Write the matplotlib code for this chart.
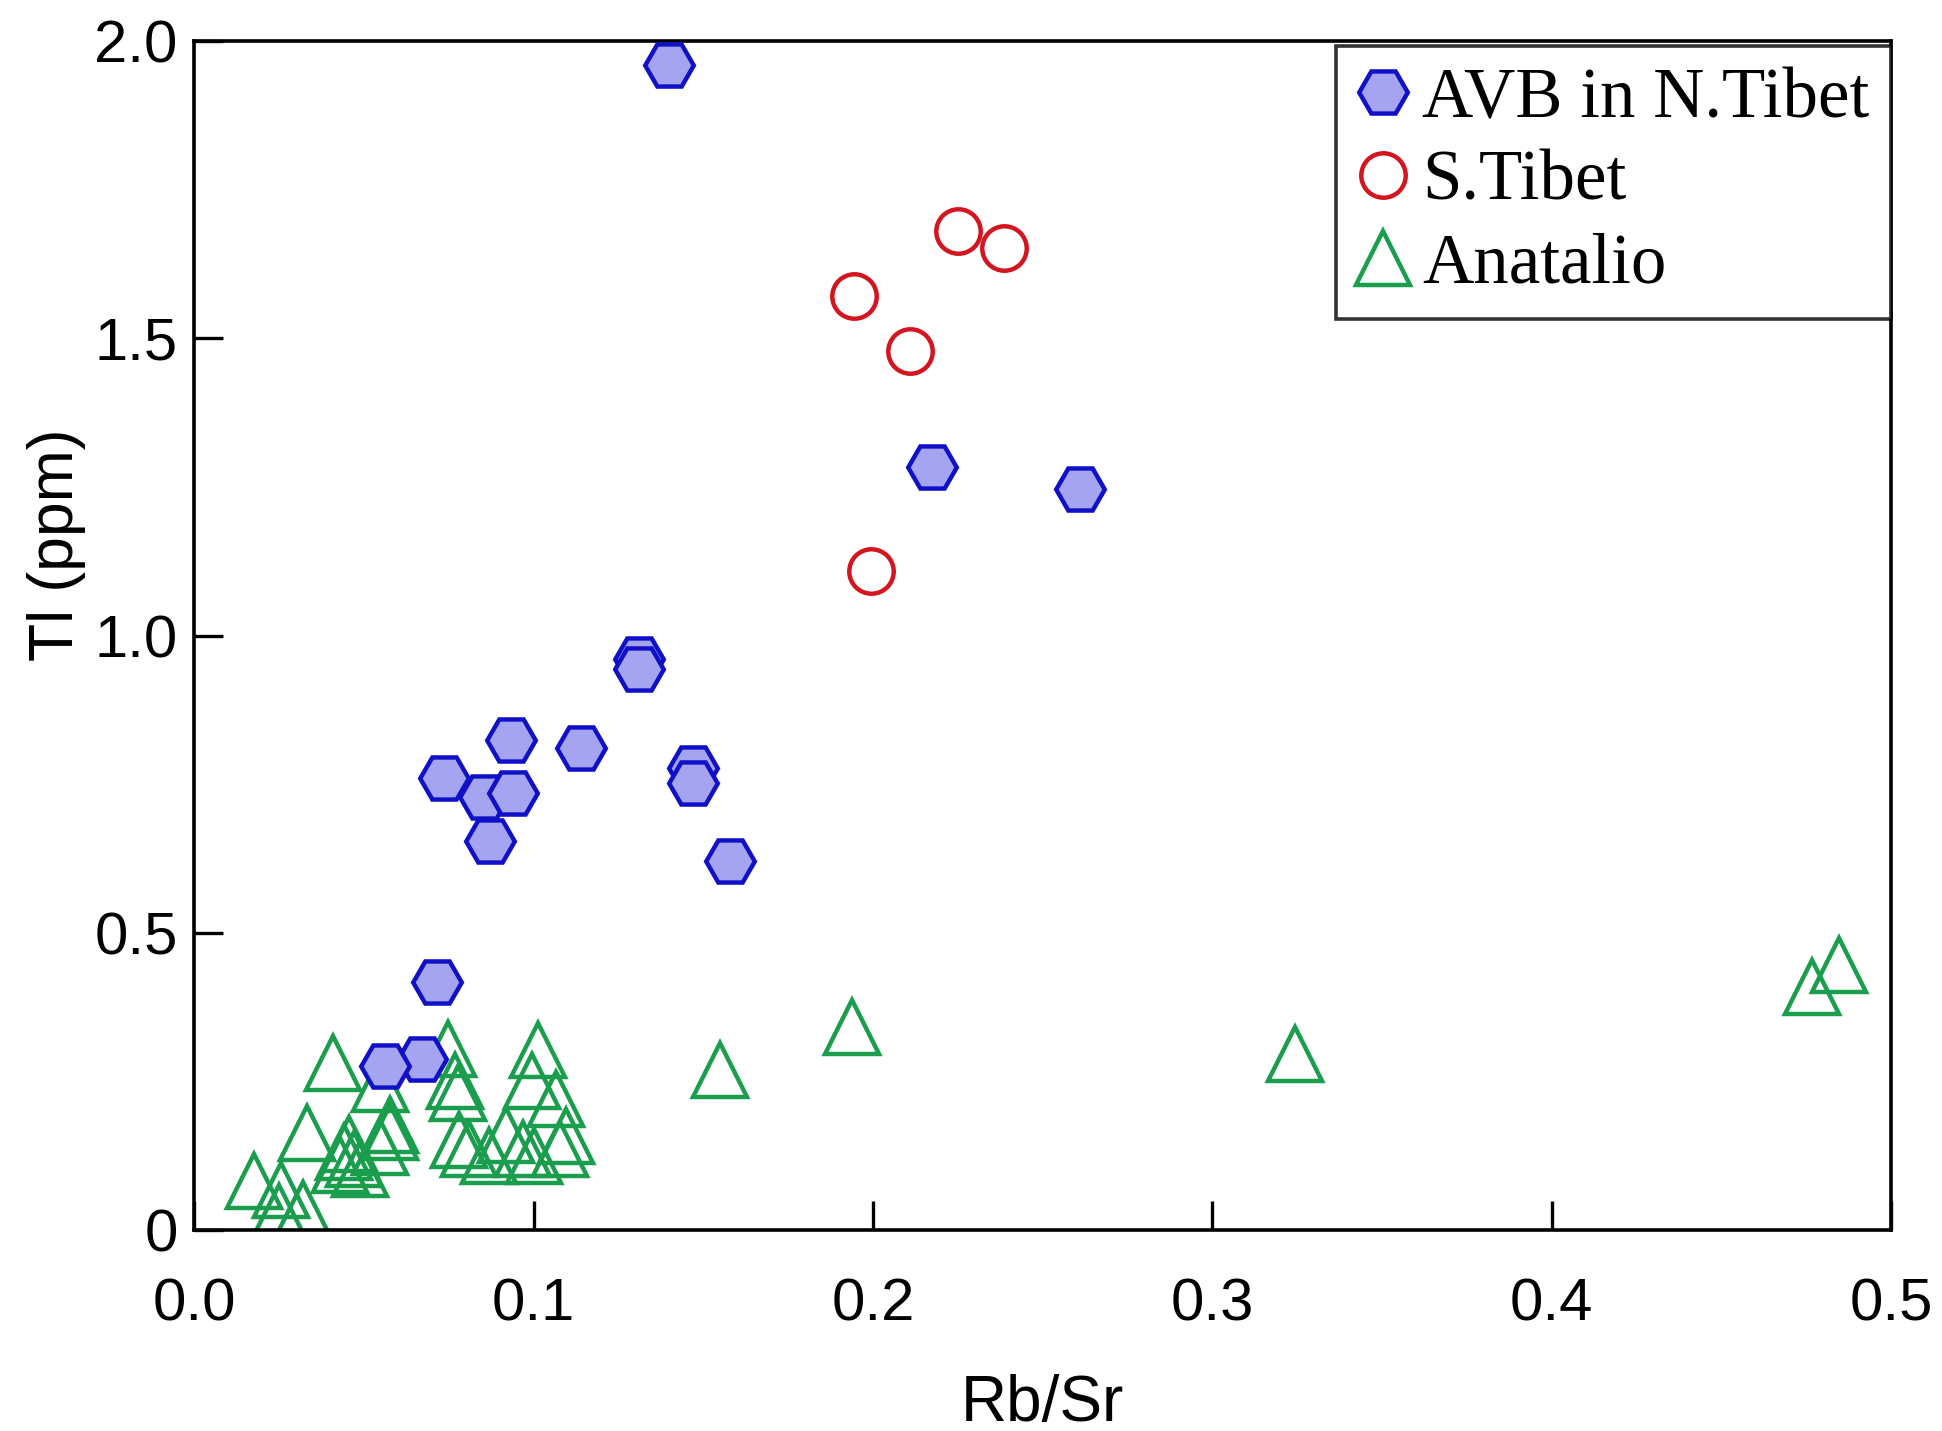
import matplotlib
matplotlib.use("Agg")
import matplotlib.pyplot as plt

# AVB in N.Tibet
avb_x = [0.1398, 0.2175, 0.261, 0.131, 0.131, 0.0934, 0.1139, 0.0737, 0.147, 0.147,
         0.0855, 0.0938, 0.0872, 0.158, 0.0715, 0.0672, 0.0562]
avb_y = [1.960, 1.283, 1.246, 0.960, 0.944, 0.825, 0.810, 0.760, 0.777, 0.752,
         0.729, 0.735, 0.654, 0.621, 0.417, 0.2875, 0.275]

# S.Tibet
st_x = [0.1945, 0.2252, 0.2387, 0.211, 0.1993]
st_y = [1.571, 1.681, 1.652, 1.479, 1.108]

# Anatalio
an_x = [0.0175, 0.025, 0.032, 0.0257, 0.0331, 0.0410, 0.043, 0.044, 0.047, 0.049,
        0.0455, 0.0547, 0.0547, 0.0577, 0.0577, 0.0748, 0.0768, 0.0777, 0.078, 0.081,
        0.087, 0.092, 0.1013, 0.0994, 0.1067, 0.097, 0.100, 0.1077, 0.1097, 0.155,
        0.1938, 0.3245, 0.4766, 0.4847]
an_y = [0.082, 0.030, 0.035, 0.067, 0.163, 0.281, 0.109, 0.131, 0.120, 0.102,
        0.145, 0.245, 0.140, 0.165, 0.176, 0.304, 0.250, 0.231, 0.151, 0.136,
        0.124, 0.160, 0.302, 0.250, 0.220, 0.136, 0.124, 0.136, 0.158, 0.269,
        0.342, 0.296, 0.408, 0.446]

x_ticks = [0.0, 0.1, 0.2, 0.3, 0.4, 0.5]
x_labels = ["0.0", "0.1", "0.2", "0.3", "0.4", "0.5"]
y_ticks = [0, 0.5, 1.0, 1.5, 2.0]
y_labels = ["0", "0.5", "1.0", "1.5", "2.0"]

fig = plt.figure(figsize=(19.42, 14.31), dpi=100)
ax = fig.add_axes([0.100, 0.1405, 0.8737, 0.8308])

h_an, = ax.plot(an_x, an_y, linestyle="none", marker="^", ms=39, mfc="none",
                mec="#1a9e4e", mew=3.2, zorder=2, label="Anatalio")
h_st, = ax.plot(st_x, st_y, linestyle="none", marker="o", ms=32, mfc="none",
                mec="#d4141e", mew=3.2, zorder=3, label="S.Tibet")
h_avb, = ax.plot(avb_x, avb_y, linestyle="none", marker="H", ms=35, mfc="#a4a4f0",
                 mec="#1010c8", mew=3.2, zorder=4, label="AVB in N.Tibet")

ax.set_xlim(0, 0.5)
ax.set_ylim(0, 2.0)
ax.set_xticks(x_ticks)
ax.set_xticklabels(x_labels)
ax.set_yticks(y_ticks)
ax.set_yticklabels(y_labels)

for s in ax.spines.values():
    s.set_linewidth(2.6)
    s.set_color("black")

ax.tick_params(axis="x", direction="in", length=21, width=2.4, labelsize=43, pad=34)
ax.tick_params(axis="y", direction="in", length=21, width=2.4, labelsize=43, pad=12)
for lab in ax.get_xticklabels() + ax.get_yticklabels():
    lab.set_family("Liberation Sans")

ax.set_xlabel("Rb/Sr", fontsize=46, family="Liberation Sans", labelpad=30)
ax.set_ylabel("Tl (ppm)", fontsize=45, family="Liberation Sans")
ax.yaxis.set_label_coords(-0.064, 0.576)

leg = ax.legend(handles=[h_avb, h_st, h_an], loc="upper right",
                bbox_to_anchor=(1.0, 0.996), borderaxespad=0.0,
                prop={"family": "Liberation Serif", "size": 51},
                frameon=True, fancybox=False, handlelength=0.72, handletextpad=0.2,
                borderpad=0.3, labelspacing=0.25, markerscale=1.0)
leg.get_frame().set_edgecolor("black")
leg.get_frame().set_linewidth(2.6)
leg.set_zorder(10)

fig.savefig("out.png", dpi=100, facecolor="white")
